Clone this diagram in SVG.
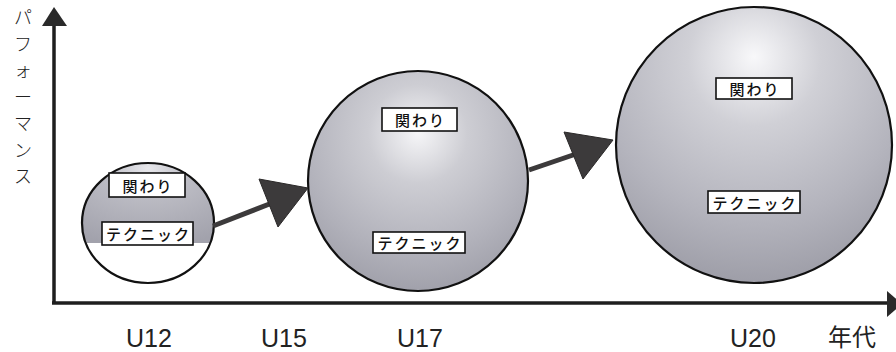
<svg xmlns="http://www.w3.org/2000/svg" width="896" height="352" viewBox="0 0 896 352">
  <style>
    .axis { stroke: #1e1e1e; stroke-width: 3.5; fill: none; }
    .axhead { fill: #2a2a2a; }
    .circ { stroke: #111; stroke-width: 2.2; }
    .box { fill: #fff; stroke: #111; stroke-width: 1.6; }
    .lbl { font-family: "Noto Sans CJK JP", "Noto Sans", sans-serif; font-size: 15px; font-weight: 500; fill: #111; text-anchor: middle; dominant-baseline: central; letter-spacing: 2px; }
    .tick { font-family: "Liberation Sans", Arial, sans-serif; font-size: 25px; fill: #222; text-anchor: middle; }
    .cjk { font-family: "Noto Sans CJK JP", sans-serif; font-size: 24px; fill: #222; text-anchor: middle; }
    .yl { font-family: "Noto Sans CJK JP", sans-serif; font-size: 18px; font-weight: 300; fill: #222; text-anchor: middle; }
    .shaft { stroke: #3c3a3b; stroke-width: 5; fill: none; }
    .head { fill: #3c3a3b; stroke: #2a2828; stroke-width: 1; stroke-linejoin: round; }
  </style>
  <defs>
    <radialGradient id="gSmall" cx="0.5" cy="0.15" r="0.9" fx="0.5" fy="0.1">
      <stop offset="0" stop-color="#e8e8ec"/>
      <stop offset="0.35" stop-color="#bcbcc4"/>
      <stop offset="1" stop-color="#a2a2ac"/>
    </radialGradient>
    <radialGradient id="gMed" cx="0.5" cy="0.3" r="0.75" fx="0.5" fy="0.28">
      <stop offset="0" stop-color="#f6f6f8"/>
      <stop offset="0.3" stop-color="#cdcdd3"/>
      <stop offset="0.7" stop-color="#b2b2bb"/>
      <stop offset="1" stop-color="#9c9ca6"/>
    </radialGradient>
    <radialGradient id="gLarge" cx="0.5" cy="0.22" r="0.8" fx="0.5" fy="0.18">
      <stop offset="0" stop-color="#f8f8fa"/>
      <stop offset="0.3" stop-color="#d0d0d6"/>
      <stop offset="0.7" stop-color="#b4b4bd"/>
      <stop offset="1" stop-color="#9c9ca6"/>
    </radialGradient>
    <clipPath id="clipSmall">
      <ellipse cx="148" cy="223" rx="66" ry="60"/>
    </clipPath>
  </defs>

  <rect width="896" height="352" fill="#fff"/>

  <g id="axes">
    <line class="axis" x1="54" y1="24" x2="54" y2="304"/>
    <polygon class="axhead" points="54,7 42,26 67,26"/>
    <line class="axis" x1="52" y1="303" x2="889" y2="303"/>
    <polygon class="axhead" points="887,291 887,317 902,304"/>
  </g>

  <g id="y-label">
    <text class="yl"><tspan x="23" y="24">パ</tspan><tspan x="23" y="50.5">フ</tspan><tspan x="23" y="77">ォ</tspan><tspan x="23" y="103.5">ー</tspan><tspan x="23" y="130">マ</tspan><tspan x="23" y="156.5">ン</tspan><tspan x="23" y="183">ス</tspan></text>
  </g>

  <g id="node-u12">
    <ellipse cx="148" cy="223" rx="66" ry="60" fill="#fff"/>
    <rect x="80" y="160" width="136" height="83" fill="url(#gSmall)" clip-path="url(#clipSmall)"/>
    <ellipse class="circ" cx="148" cy="223" rx="66" ry="60" fill="none"/>
    <rect class="box" x="109" y="173" width="76" height="24"/>
    <text class="lbl" x="148" y="185">関わり</text>
    <rect class="box" x="102" y="222" width="91" height="23"/>
    <text class="lbl" x="148.5" y="233.5">テクニック</text>
  </g>

  <g id="node-u17">
    <circle class="circ" cx="418" cy="181" r="110" fill="url(#gMed)"/>
    <rect class="box" x="382" y="108" width="75" height="23"/>
    <text class="lbl" x="420.5" y="119.5">関わり</text>
    <rect class="box" x="373" y="232" width="92" height="21"/>
    <text class="lbl" x="420" y="242.5">テクニック</text>
  </g>

  <g id="node-u20">
    <circle class="circ" cx="754" cy="145" r="138" fill="url(#gLarge)"/>
    <rect class="box" x="716" y="78" width="76" height="21"/>
    <text class="lbl" x="755" y="88.5">関わり</text>
    <rect class="box" x="708" y="191" width="92" height="22"/>
    <text class="lbl" x="755" y="202">テクニック</text>
  </g>

  <g id="connectors">
    <line class="shaft" x1="213" y1="226" x2="272" y2="203"/>
    <polygon class="head" points="259,179 308,188 278,227"/>
    <line class="shaft" x1="529" y1="170" x2="576" y2="154"/>
    <polygon class="head" points="564,132 613,140 583,179"/>
  </g>

  <g id="x-labels">
    <text class="tick" x="149" y="347">U12</text>
    <text class="tick" x="284" y="347">U15</text>
    <text class="tick" x="420" y="347">U17</text>
    <text class="tick" x="753" y="347">U20</text>
    <text class="cjk" x="852" y="346">年代</text>
  </g>
</svg>
